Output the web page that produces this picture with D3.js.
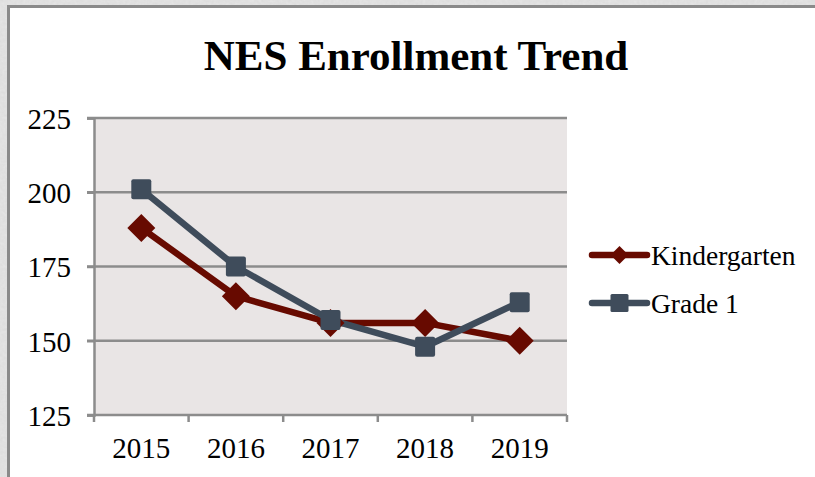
<!DOCTYPE html>
<html><head><meta charset="utf-8">
<script src="https://cdn.jsdelivr.net/npm/d3@7"></script>
<style>
html,body{margin:0;padding:0;background:#dedede;}
svg{display:block;}
</style></head>
<body>
<script>
const years = ["2015","2016","2017","2018","2019"];
const kindergarten = [188, 165, 156, 156, 150];
const grade1 = [201, 175, 157, 148, 163];
const yTicks = [125, 150, 175, 200, 225];
const seriesNames = ["Kindergarten", "Grade 1"];
const seriesColors = ["#670a00", "#3f4c5b"];

(function(){
const W = 815, H = 477;
const FONT = "Liberation Serif, Times New Roman, serif";
const svg = d3.select("body").append("svg").attr("width", W).attr("height", H);

const defs = svg.append("defs");
const f = defs.append("filter").attr("id", "tex").attr("x", 0).attr("y", 0).attr("width", "100%").attr("height", "100%");
f.append("feTurbulence").attr("type", "fractalNoise").attr("baseFrequency", 0.35).attr("numOctaves", 2).attr("seed", 3).attr("result", "n");
f.append("feColorMatrix").attr("in", "n").attr("type", "matrix")
  .attr("values", "0 0 0 0 0.86  0 0 0 0 0.86  0 0 0 0 0.86  0.35 0.35 0.35 0 -0.2").attr("result", "c");
f.append("feFlood").attr("flood-color", "#dcdcdc").attr("result", "bg");
f.append("feComposite").attr("in", "c").attr("in2", "bg").attr("operator", "over");

svg.append("rect").attr("width", W).attr("height", H).attr("fill", "#dcdcdc");
svg.append("rect").attr("width", W).attr("height", H).attr("filter", "url(#tex)").attr("opacity", 0.8);
svg.append("rect").attr("x", 8.5).attr("y", 6.5).attr("width", W).attr("height", H)
  .attr("fill", "#ffffff").attr("stroke", "#8a8a8a").attr("stroke-width", 3);

const pL = 94, pR = 567, pT = 118, pB = 415;
const x = d3.scaleBand().domain(years).range([pL, pR]);
const y = d3.scaleLinear().domain([125, 225]).range([pB, pT]);

svg.append("rect").attr("x", pL).attr("y", pT).attr("width", pR - pL).attr("height", pB - pT)
  .attr("fill", "#e9e5e5");

svg.append("g").selectAll("line").data(yTicks.slice(1)).join("line")
  .attr("x1", pL - 7).attr("x2", pR).attr("y1", d => y(d)).attr("y2", d => y(d))
  .attr("stroke", "#8c8c8c").attr("stroke-width", 2.5);

const yAxis = svg.append("g").attr("transform", `translate(${pL},0)`)
  .call(d3.axisLeft(y).tickValues(yTicks).tickSize(7).tickPadding(16).tickFormat(d3.format("d")));
yAxis.select(".domain").attr("stroke", "#8c8c8c").attr("stroke-width", 2.5);
yAxis.selectAll(".tick line").attr("stroke", "#8c8c8c").attr("stroke-width", 2.5);
yAxis.selectAll("text").attr("font-family", FONT)
  .attr("font-size", 29).attr("fill", "#000").attr("dy", "0.36em");

const xAxis = svg.append("g").attr("transform", `translate(0,${pB})`)
  .call(d3.axisBottom(x).tickSize(0).tickPadding(0));
xAxis.select(".domain").remove();
xAxis.selectAll("text").attr("font-family", FONT)
  .attr("font-size", 29).attr("fill", "#000").attr("y", 43).attr("dy", 0);
svg.append("line").attr("x1", pL - 7).attr("x2", pR).attr("y1", pB).attr("y2", pB)
  .attr("stroke", "#8c8c8c").attr("stroke-width", 2.5);
const bounds = years.map(d => x(d)).concat([pR]);
svg.append("g").selectAll("line").data(bounds).join("line")
  .attr("x1", d => d).attr("x2", d => d).attr("y1", pB).attr("y2", pB + 7)
  .attr("stroke", "#8c8c8c").attr("stroke-width", 2.5);

const cx = d => x(d) + x.bandwidth() / 2;
const data = [kindergarten, grade1];
const line = d3.line().x((d, i) => cx(years[i])).y(d => y(d));
data.forEach((vals, si) => {
  svg.append("path").datum(vals).attr("d", line).attr("fill", "none")
    .attr("stroke", seriesColors[si]).attr("stroke-width", 6.5).attr("stroke-linejoin", "round");
});
const dpath = r => `M0,${-r}L${r},0L0,${r}L${-r},0Z`;
svg.append("g").selectAll("path").data(kindergarten).join("path")
  .attr("d", dpath(14)).attr("transform", (d, i) => `translate(${cx(years[i])},${y(d)})`)
  .attr("fill", seriesColors[0]);
svg.append("g").selectAll("rect").data(grade1).join("rect")
  .attr("x", (d, i) => cx(years[i]) - 10).attr("y", d => y(d) - 10)
  .attr("width", 20).attr("height", 20).attr("rx", 2)
  .attr("fill", seriesColors[1]);

svg.append("text").attr("x", 416).attr("y", 69.5).attr("text-anchor", "middle")
  .attr("font-family", FONT).attr("font-weight", "bold")
  .attr("font-size", 43).attr("fill", "#000").text("NES Enrollment Trend");

const legY = [255, 303];
seriesNames.forEach((name, i) => {
  const g = svg.append("g");
  g.append("line").attr("x1", 592).attr("x2", 647).attr("y1", legY[i]).attr("y2", legY[i])
    .attr("stroke", seriesColors[i]).attr("stroke-width", 6.5).attr("stroke-linecap", "round");
  if (i === 0) {
    g.append("path").attr("d", dpath(9)).attr("transform", `translate(619.5,${legY[i]})`)
      .attr("fill", seriesColors[i]);
  } else {
    g.append("rect").attr("x", 619.5 - 9).attr("y", legY[i] - 9).attr("width", 18).attr("height", 18)
      .attr("rx", 1.5).attr("fill", seriesColors[i]);
  }
  g.append("text").attr("x", 651).attr("y", legY[i] + 10)
    .attr("font-family", FONT).attr("font-size", 27.5)
    .attr("fill", "#000").text(name);
});
})();
</script>
</body></html>
